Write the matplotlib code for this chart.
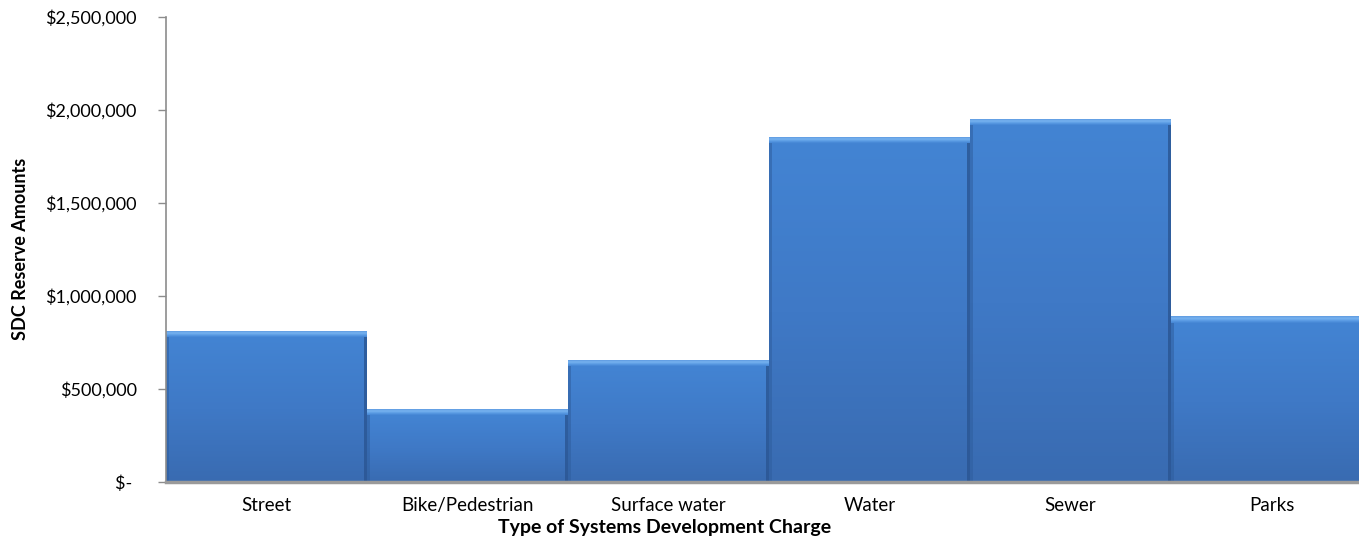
import numpy as np
import matplotlib.pyplot as plt
from matplotlib.ticker import FuncFormatter, MultipleLocator
from matplotlib.colors import LinearSegmentedColormap

# SDC reserve balances by charge type
categories = ["Street", "Bike/Pedestrian", "Surface water", "Water", "Sewer", "Parks"]
reserves = [812000, 390000, 655000, 1854000, 1954000, 888000]

plt.rcParams['font.family'] = ['Lato', 'DejaVu Sans']

W, H = 1359, 544
fig = plt.figure(figsize=(W / 100, H / 100), dpi=100)
# plot area runs a little past the right edge of the canvas
ax = fig.add_axes([166 / W, (H - 482) / H, 1206 / W, 465 / H])

YMAX = 2500000
px_per_unit = 465 / YMAX          # vertical pixels per dollar
bar_px = 1206 / len(categories)   # horizontal pixels per bar

body = LinearSegmentedColormap.from_list("body", ["#396bb1", "#3f79c6", "#4384d3"])
band = LinearSegmentedColormap.from_list("band", ["#4384d3", "#5a9be4", "#78b3f0", "#5d9ae0"])

grad = np.linspace(0, 1, 256).reshape(-1, 1)
band_h = 6 / px_per_unit
edge_w = 3 / bar_px

for i, v in enumerate(reserves):
    x0, x1 = i - 0.5, i + 0.5
    # main body, darker towards the baseline
    ax.imshow(grad, extent=(x0, x1, 0, v - band_h), origin='lower', cmap=body,
              aspect='auto', interpolation='bilinear', zorder=2)
    # bevel highlight along the top
    ax.imshow(grad, extent=(x0, x1, v - band_h, v), origin='lower', cmap=band,
              aspect='auto', interpolation='bilinear', zorder=2)
    # shaded sides
    ax.fill_between([x0, x0 + edge_w], 0, v - band_h, color='#2f5e9e', alpha=0.55,
                    lw=0, zorder=3)
    ax.fill_between([x1 - edge_w, x1], 0, v - band_h, color='#2a5592', alpha=0.8,
                    lw=0, zorder=3)

ax.set_xlim(-0.5, len(categories) - 0.5)
ax.set_ylim(0, YMAX)

ax.yaxis.set_major_locator(MultipleLocator(500000))


def money(val, pos):
    if val == 0:
        return "$- "
    return f"${val:,.0f}"


ax.yaxis.set_major_formatter(FuncFormatter(money))
ax.set_xticks(range(len(categories)))
ax.set_xticklabels(categories)

ax.tick_params(axis='y', length=6, width=1, color='#8c8c8c', labelsize=13, pad=15)
ax.tick_params(axis='x', length=0, labelsize=13.5, pad=11)

for s in ['top', 'right']:
    ax.spines[s].set_visible(False)
ax.spines['left'].set_color('#8c8c8c')
ax.spines['left'].set_linewidth(1.2)
ax.spines['bottom'].set_color('#9a9a9a')
ax.spines['bottom'].set_linewidth(2.5)
ax.spines['left'].set_zorder(4)
ax.spines['bottom'].set_zorder(4)

fig.text(21 / W, 1 - 249 / H, "SDC Reserve Amounts", rotation=90, ha='center',
         va='center', fontsize=13, fontweight='bold')
fig.text(665 / W, 1 - 528 / H, "Type of Systems Development Charge", ha='center',
         va='center', fontsize=14, fontweight='bold')

fig.savefig("out.png", dpi=100)
